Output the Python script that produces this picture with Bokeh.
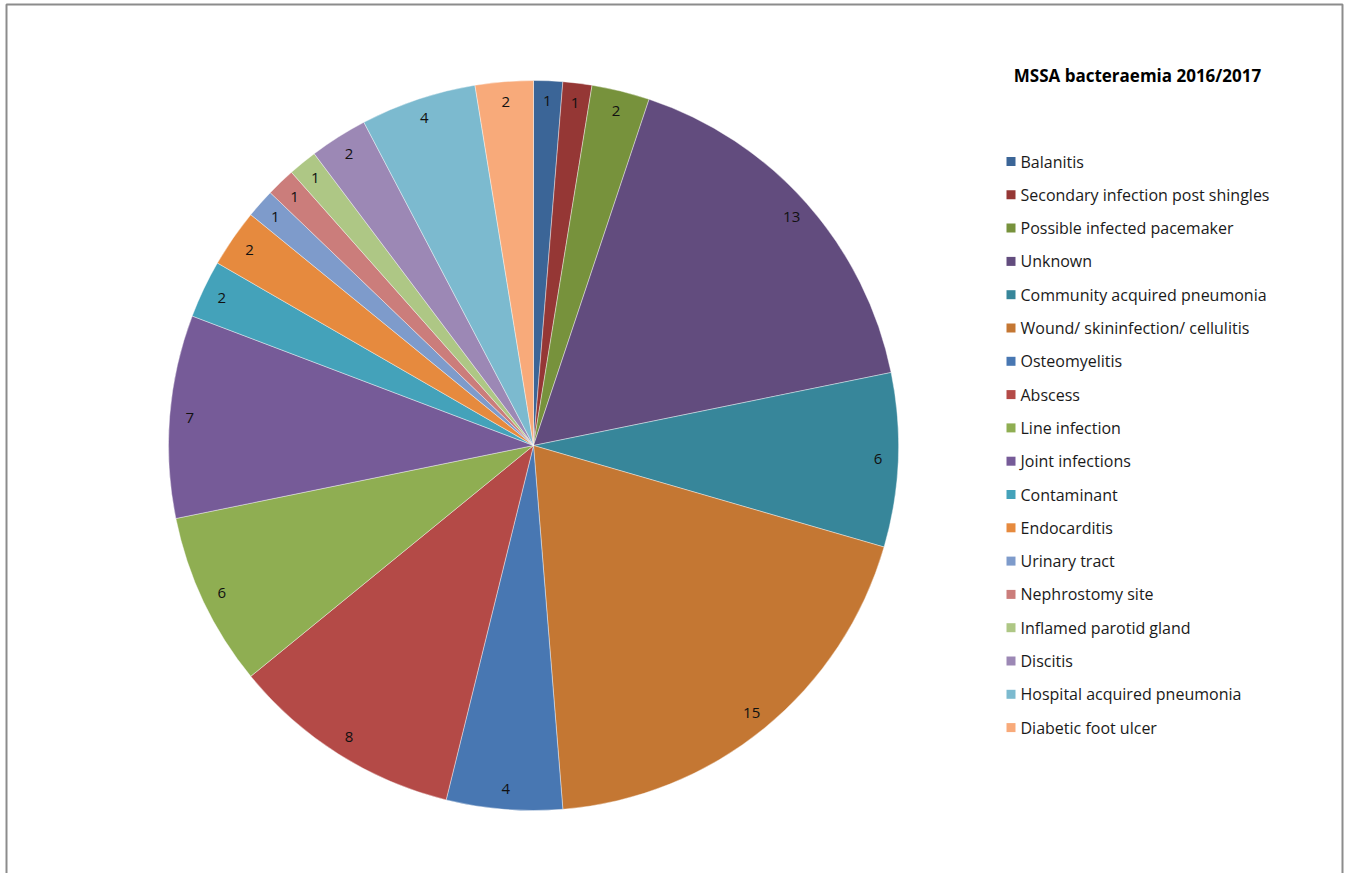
import math
from bokeh.plotting import figure
from bokeh.models import Range1d, ColumnDataSource
from bokeh.core.properties import value
from bokeh.embed import file_html
from bokeh.resources import INLINE

title = "MSSA bacteraemia 2016/2017"
categories = [
    "Balanitis", "Secondary infection post shingles", "Possible infected pacemaker",
    "Unknown", "Community acquired pneumonia", "Wound/ skininfection/ cellulitis",
    "Osteomyelitis", "Abscess", "Line infection", "Joint infections", "Contaminant",
    "Endocarditis", "Urinary tract", "Nephrostomy site", "Inflamed parotid gland",
    "Discitis", "Hospital acquired pneumonia", "Diabetic foot ulcer",
]
counts = [1, 1, 2, 13, 6, 15, 4, 8, 6, 7, 2, 2, 1, 1, 1, 2, 4, 2]
colors = [
    "#3B6597", "#953735", "#77923C", "#624C7E", "#37869A", "#C47733",
    "#4877B2", "#B44A47", "#8FAE52", "#765B98", "#44A2BA", "#E68A3E",
    "#7E9BCB", "#CB7D7B", "#AEC785", "#9C88B5", "#7CBACF", "#F8AA7A",
]

W, H = 1344, 873
p = figure(width=W, height=H, output_backend="svg", toolbar_location=None,
           x_range=Range1d(0, W), y_range=Range1d(0, H), min_border=0)
p.axis.visible = False
p.grid.visible = False
p.outline_line_color = None
p.background_fill_color = "white"
p.border_fill_color = "white"

# chart-area frame
p.quad(left=6, right=1342, top=H - 4, bottom=-20, fill_color=None,
       line_color="#8c8c8c", line_width=2)

cx, cy, r = 533, H - 445, 365
total = sum(counts)
cum = 0
starts, ends, lx, ly = [], [], [], []
for c in counts:
    a0 = math.pi / 2 - (cum + c) / total * 2 * math.pi
    a1 = math.pi / 2 - cum / total * 2 * math.pi
    mid = math.pi / 2 - (cum + c / 2) / total * 2 * math.pi
    starts.append(a0)
    ends.append(a1)
    lx.append(cx + 0.945 * r * math.cos(mid))
    ly.append(cy + 0.945 * r * math.sin(mid))
    cum += c

src = ColumnDataSource(dict(start=starts, end=ends, color=colors,
                            lx=lx, ly=ly, lab=[str(c) for c in counts]))
p.wedge(x=cx, y=cy, radius=r, start_angle="start", end_angle="end",
        fill_color="color", line_color="white", line_width=0.4, source=src)
p.text(x="lx", y="ly", text="lab", source=src, text_align="center",
       text_baseline="middle", text_font=value("Open Sans"),
       text_font_size="15px", text_color="#111111")

# title
p.text(x=[1137], y=[H - 75], text=[title], text_align="center",
       text_baseline="middle", text_font=value("Open Sans"),
       text_font_size="17px", text_font_style="bold", text_color="#000000")

# legend
n = len(categories)
ys = [H - (161 + i * 33.3) for i in range(n)]
leg = ColumnDataSource(dict(x=[1010.5] * n, tx=[1020] * n, y=ys,
                            color=colors, name=categories))
p.rect(x="x", y="y", width=9, height=9, fill_color="color", line_color=None,
       source=leg)
p.text(x="tx", y="y", text="name", source=leg, text_align="left",
       text_baseline="middle", text_font=value("Open Sans"),
       text_font_size="16px", text_color="#1a1a1a")

open("out.html", "w").write(file_html(p, INLINE))
